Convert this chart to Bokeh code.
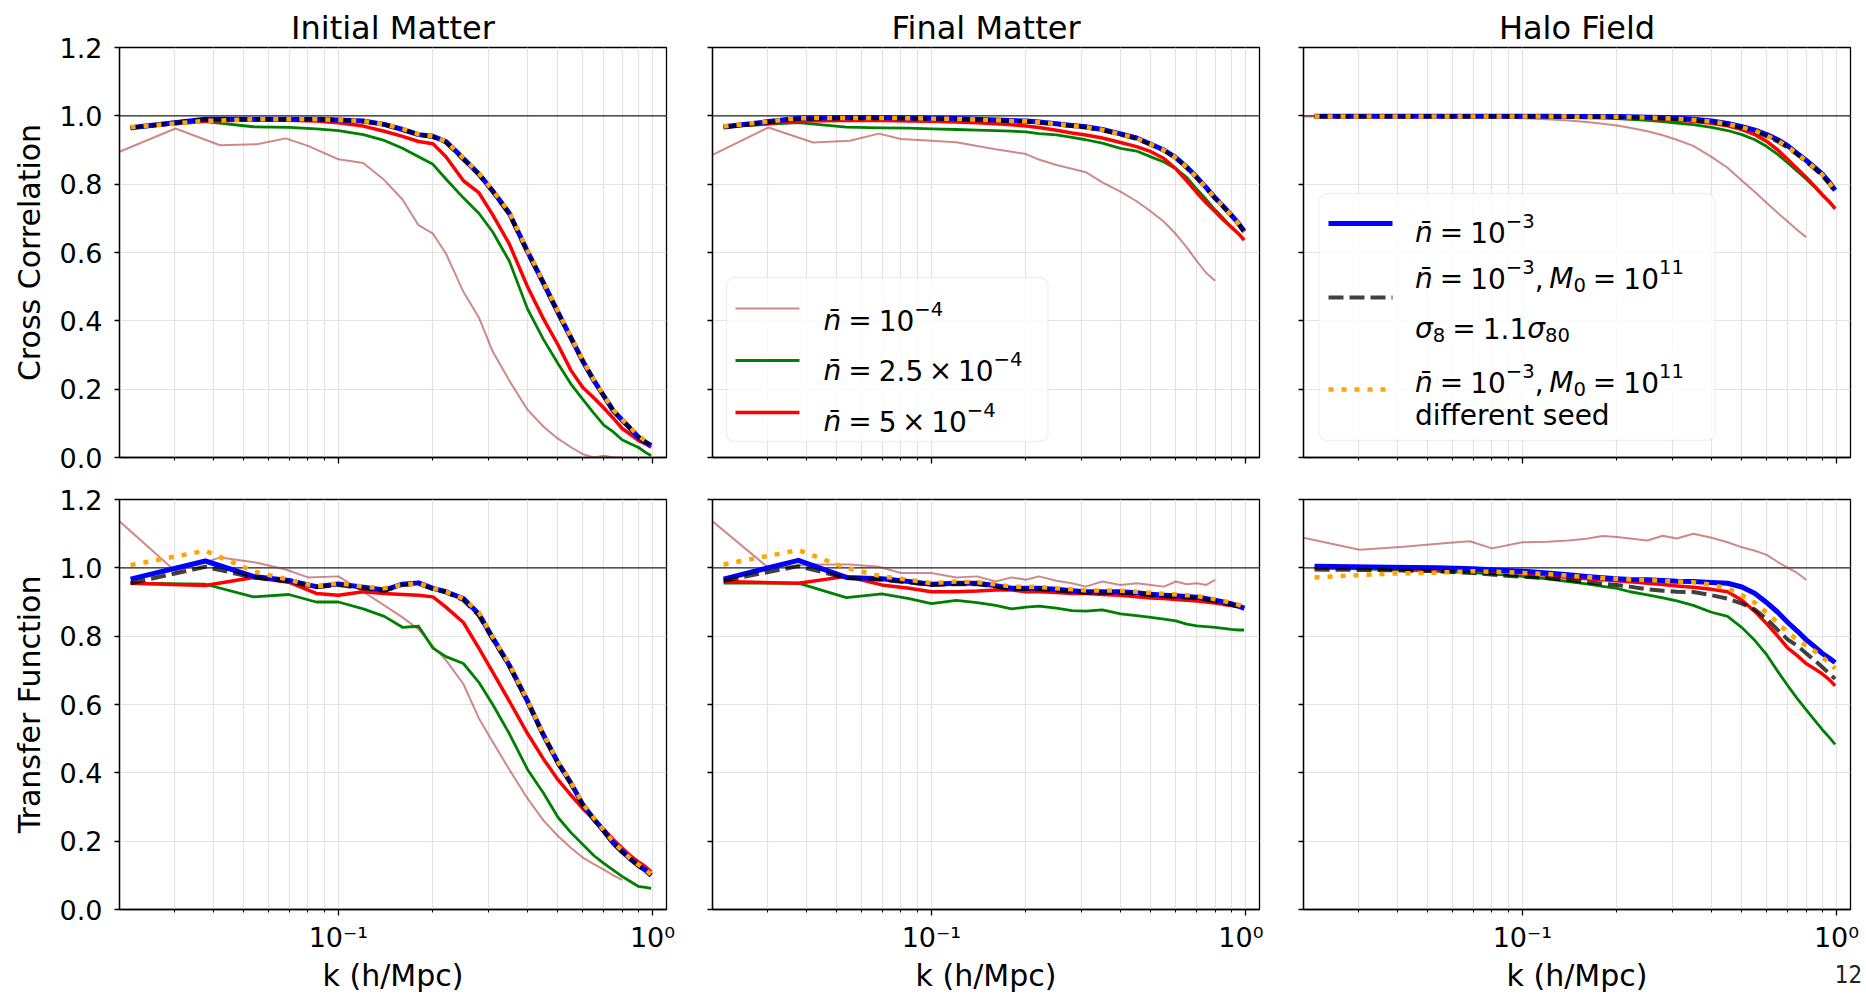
import math
from bokeh.plotting import figure
from bokeh.layouts import column, row
from bokeh.models import (Range1d, FixedTicker, PrintfTickFormatter, Span,
                          BoxAnnotation, Label, ColumnDataSource)
from bokeh.core.properties import value
from bokeh.embed import file_html
from bokeh.resources import INLINE

# ---------------------------------------------------------------- data
k = [0.0218, 0.0377, 0.0536, 0.0695, 0.085, 0.10, 0.12, 0.14, 0.16, 0.18, 0.20,
     0.22, 0.25, 0.28, 0.31, 0.35, 0.40, 0.45, 0.50, 0.55, 0.60, 0.65, 0.70,
     0.75, 0.80, 0.85, 0.90, 0.95, 0.99]
k_low = [0.0201, 0.0303, 0.042, 0.055, 0.068, 0.08, 0.10, 0.12, 0.14, 0.16, 0.18,
         0.20, 0.22, 0.25, 0.28, 0.31, 0.35, 0.40, 0.45, 0.50, 0.55, 0.60, 0.65,
         0.70, 0.75, 0.80]

# Cross correlation, initial matter
cc_init_pink = [0.895, 0.963, 0.914, 0.917, 0.934, 0.912, 0.873, 0.862, 0.812, 0.755, 0.68, 0.655, 0.597,
                0.485, 0.41, 0.31, 0.225, 0.14, 0.09, 0.055, 0.03, 0.01, 0.0, 0.005, 0.0, 0.0]
cc_init_green = [0.965, 0.983, 0.968, 0.966, 0.962, 0.957, 0.945, 0.928, 0.905, 0.88, 0.858, 0.815, 0.76,
                 0.715, 0.66, 0.575, 0.435, 0.345, 0.275, 0.215, 0.17, 0.13, 0.095, 0.075, 0.052, 0.04,
                 0.03, 0.015, 0.005]
cc_init_red = [0.966, 0.985, 0.988, 0.987, 0.985, 0.98, 0.97, 0.955, 0.94, 0.925, 0.918, 0.88, 0.81,
               0.775, 0.71, 0.625, 0.50, 0.405, 0.33, 0.255, 0.205, 0.175, 0.145, 0.115, 0.085, 0.068,
               0.05, 0.04, 0.03]
cc_init_blue = [0.965, 0.99, 0.99, 0.99, 0.99, 0.988, 0.985, 0.975, 0.96, 0.945, 0.94, 0.925, 0.875,
                0.83, 0.78, 0.715, 0.603, 0.51, 0.425, 0.35, 0.282, 0.226, 0.18, 0.137, 0.11, 0.085,
                0.06, 0.045, 0.035]
cc_init_black = [0.965, 0.99, 0.99, 0.99, 0.99, 0.988, 0.984, 0.974, 0.96, 0.945, 0.938, 0.922, 0.872,
                 0.828, 0.778, 0.712, 0.6, 0.508, 0.423, 0.35, 0.282, 0.226, 0.18, 0.137, 0.11, 0.085,
                 0.062, 0.045, 0.035]
cc_init_orange = [0.967, 0.985, 0.99, 0.99, 0.99, 0.988, 0.985, 0.975, 0.962, 0.946, 0.94, 0.925, 0.876,
                  0.832, 0.782, 0.718, 0.606, 0.512, 0.428, 0.352, 0.285, 0.228, 0.182, 0.14, 0.112,
                  0.087, 0.065, 0.048, 0.037]

# Cross correlation, final matter
cc_final_pink = [0.886, 0.966, 0.922, 0.927, 0.948, 0.932, 0.927, 0.923, 0.912, 0.902, 0.895, 0.888,
                 0.872, 0.856, 0.845, 0.835, 0.805, 0.778, 0.75, 0.72, 0.69, 0.654, 0.615, 0.575, 0.54,
                 0.517]
cc_final_green = [0.968, 0.98, 0.967, 0.965, 0.964, 0.962, 0.96, 0.958, 0.957, 0.955, 0.953, 0.948,
                  0.944, 0.937, 0.93, 0.92, 0.905, 0.897, 0.88, 0.865, 0.845, 0.82, 0.785, 0.755, 0.725,
                  0.7, 0.675, 0.655, 0.638]
cc_final_red = [0.968, 0.985, 0.986, 0.986, 0.985, 0.984, 0.982, 0.98, 0.977, 0.974, 0.97, 0.966, 0.958,
                0.95, 0.944, 0.935, 0.922, 0.91, 0.895, 0.875, 0.845, 0.81, 0.775, 0.745, 0.72, 0.695,
                0.675, 0.655, 0.636]
cc_final_blue = [0.968, 0.993, 0.995, 0.995, 0.994, 0.993, 0.992, 0.99, 0.988, 0.986, 0.985, 0.982,
                 0.977, 0.972, 0.968, 0.96, 0.947, 0.935, 0.917, 0.9, 0.878, 0.85, 0.82, 0.79, 0.76,
                 0.735, 0.71, 0.685, 0.662]
cc_final_black = [0.966, 0.991, 0.993, 0.993, 0.992, 0.991, 0.99, 0.988, 0.986, 0.984, 0.983, 0.98,
                  0.975, 0.97, 0.966, 0.958, 0.945, 0.933, 0.915, 0.898, 0.876, 0.848, 0.818, 0.788,
                  0.758, 0.733, 0.708, 0.683, 0.66]
cc_final_orange = [0.969, 0.993, 0.994, 0.994, 0.993, 0.992, 0.991, 0.989, 0.987, 0.985, 0.984, 0.981,
                   0.976, 0.971, 0.967, 0.959, 0.946, 0.934, 0.916, 0.899, 0.877, 0.849, 0.819, 0.789,
                   0.759, 0.734, 0.709, 0.684, 0.661]

# Cross correlation, halo field
cc_halo_pink = [0.998, 0.998, 0.998, 0.997, 0.996, 0.995, 0.993, 0.99, 0.986, 0.982, 0.977, 0.972, 0.965,
                0.955, 0.943, 0.93, 0.912, 0.88, 0.848, 0.81, 0.777, 0.745, 0.716, 0.69, 0.666, 0.645]
cc_halo_green = [0.998, 0.998, 0.998, 0.998, 0.997, 0.997, 0.996, 0.995, 0.994, 0.993, 0.992, 0.99,
                 0.987, 0.983, 0.979, 0.974, 0.966, 0.957, 0.945, 0.93, 0.91, 0.887, 0.862, 0.838, 0.815,
                 0.792, 0.768, 0.748, 0.73]
cc_halo_red = [0.998, 0.998, 0.998, 0.998, 0.998, 0.998, 0.998, 0.997, 0.997, 0.996, 0.996, 0.995, 0.993,
               0.99, 0.988, 0.984, 0.978, 0.971, 0.96, 0.945, 0.925, 0.9, 0.872, 0.845, 0.82, 0.795,
               0.77, 0.748, 0.728]
cc_halo_blue = [0.999, 0.999, 0.999, 0.999, 0.999, 0.999, 0.999, 0.998, 0.998, 0.998, 0.998, 0.997,
                0.996, 0.995, 0.994, 0.99, 0.985, 0.978, 0.968, 0.958, 0.945, 0.93, 0.912, 0.89, 0.87,
                0.85, 0.83, 0.805, 0.782]
cc_halo_black = [0.998, 0.998, 0.998, 0.998, 0.998, 0.998, 0.998, 0.997, 0.997, 0.997, 0.996, 0.995,
                 0.994, 0.992, 0.99, 0.986, 0.981, 0.974, 0.965, 0.954, 0.94, 0.925, 0.907, 0.886, 0.866,
                 0.846, 0.825, 0.8, 0.776]
cc_halo_orange = [0.998, 0.998, 0.998, 0.998, 0.998, 0.998, 0.998, 0.998, 0.997, 0.997, 0.997, 0.996,
                  0.995, 0.993, 0.991, 0.988, 0.983, 0.976, 0.966, 0.956, 0.942, 0.927, 0.909, 0.888,
                  0.868, 0.848, 0.828, 0.803, 0.779]

# Transfer function, initial matter
tf_init_pink = [1.136, 0.99, 1.03, 1.015, 0.995, 0.972, 0.975, 0.93, 0.89, 0.855, 0.82, 0.77, 0.73, 0.66,
                0.56, 0.49, 0.41, 0.325, 0.26, 0.215, 0.18, 0.152, 0.133, 0.117, 0.1, 0.087]
tf_init_green = [0.955, 0.952, 0.915, 0.922, 0.9, 0.9, 0.88, 0.858, 0.826, 0.829, 0.765, 0.74, 0.72,
                 0.665, 0.6, 0.515, 0.41, 0.34, 0.27, 0.225, 0.19, 0.158, 0.135, 0.115, 0.097, 0.082,
                 0.068, 0.065, 0.062]
tf_init_red = [0.955, 0.948, 0.972, 0.958, 0.925, 0.92, 0.93, 0.925, 0.922, 0.92, 0.915, 0.885, 0.84,
               0.765, 0.695, 0.61, 0.515, 0.44, 0.38, 0.335, 0.295, 0.265, 0.235, 0.205, 0.18, 0.158,
               0.14, 0.125, 0.11]
tf_init_blue = [0.967, 1.02, 0.975, 0.963, 0.945, 0.953, 0.943, 0.935, 0.952, 0.956, 0.94, 0.93, 0.91,
                0.865, 0.795, 0.715, 0.61, 0.51, 0.43, 0.37, 0.307, 0.265, 0.23, 0.195, 0.17, 0.148,
                0.13, 0.115, 0.1]
tf_init_black = [0.955, 1.003, 0.972, 0.96, 0.943, 0.95, 0.94, 0.933, 0.95, 0.953, 0.938, 0.928, 0.905,
                 0.86, 0.79, 0.712, 0.607, 0.508, 0.428, 0.368, 0.305, 0.263, 0.228, 0.193, 0.168,
                 0.147, 0.128, 0.113, 0.1]
tf_init_orange = [1.008, 1.05, 0.99, 0.965, 0.945, 0.955, 0.945, 0.94, 0.95, 0.955, 0.94, 0.93, 0.91,
                  0.87, 0.797, 0.718, 0.612, 0.512, 0.432, 0.372, 0.31, 0.268, 0.232, 0.198, 0.172,
                  0.15, 0.132, 0.117, 0.102]

# Transfer function, final matter
tf_final_pink = [1.136, 1.0, 1.01, 1.01, 1.003, 0.985, 0.985, 0.972, 0.975, 0.96, 0.972, 0.965, 0.975,
                 0.962, 0.955, 0.945, 0.96, 0.95, 0.955, 0.95, 0.945, 0.96, 0.952, 0.955, 0.95, 0.965]
tf_final_green = [0.955, 0.955, 0.913, 0.924, 0.91, 0.895, 0.905, 0.898, 0.89, 0.88, 0.885, 0.888,
                  0.882, 0.875, 0.873, 0.877, 0.865, 0.86, 0.855, 0.85, 0.845, 0.835, 0.83, 0.828,
                  0.826, 0.823, 0.82, 0.818, 0.818]
tf_final_red = [0.96, 0.955, 0.975, 0.95, 0.94, 0.93, 0.93, 0.932, 0.935, 0.935, 0.93, 0.93, 0.928,
                0.925, 0.925, 0.922, 0.92, 0.915, 0.912, 0.91, 0.907, 0.905, 0.903, 0.9, 0.897, 0.893,
                0.89, 0.887, 0.884]
tf_final_blue = [0.967, 1.022, 0.972, 0.968, 0.96, 0.952, 0.955, 0.955, 0.948, 0.94, 0.94, 0.94, 0.937,
                 0.933, 0.93, 0.93, 0.93, 0.927, 0.923, 0.92, 0.918, 0.916, 0.914, 0.91, 0.905, 0.9,
                 0.895, 0.888, 0.882]
tf_final_black = [0.962, 1.005, 0.97, 0.965, 0.957, 0.95, 0.952, 0.952, 0.945, 0.937, 0.938, 0.937,
                  0.934, 0.93, 0.927, 0.927, 0.927, 0.924, 0.92, 0.917, 0.915, 0.913, 0.911, 0.907,
                  0.902, 0.897, 0.892, 0.886, 0.88]
tf_final_orange = [1.01, 1.052, 1.0, 0.975, 0.965, 0.955, 0.96, 0.958, 0.952, 0.945, 0.945, 0.944, 0.94,
                   0.937, 0.934, 0.934, 0.933, 0.93, 0.927, 0.924, 0.922, 0.92, 0.917, 0.913, 0.908,
                   0.903, 0.898, 0.892, 0.886]

# Transfer function, halo field
tf_halo_pink = [1.088, 1.053, 1.062, 1.071, 1.078, 1.057, 1.075, 1.076, 1.08, 1.085, 1.093, 1.09, 1.086,
                1.08, 1.094, 1.086, 1.1, 1.088, 1.075, 1.06, 1.05, 1.038, 1.017, 1.0, 0.985, 0.965]
tf_halo_green = [1.0, 0.995, 0.99, 0.986, 0.98, 0.975, 0.968, 0.96, 0.953, 0.946, 0.94, 0.93, 0.921,
                 0.912, 0.903, 0.89, 0.87, 0.858, 0.825, 0.787, 0.745, 0.697, 0.655, 0.617, 0.585,
                 0.555, 0.527, 0.503, 0.483]
tf_halo_red = [1.0, 0.998, 0.995, 0.993, 0.99, 0.985, 0.978, 0.972, 0.968, 0.965, 0.962, 0.959, 0.955,
               0.951, 0.947, 0.943, 0.937, 0.93, 0.905, 0.872, 0.836, 0.8, 0.765, 0.743, 0.72, 0.705,
               0.69, 0.672, 0.655]
tf_halo_blue = [1.005, 1.002, 1.0, 0.997, 0.993, 0.99, 0.985, 0.98, 0.975, 0.971, 0.968, 0.966, 0.965,
                0.963, 0.961, 0.96, 0.957, 0.955, 0.944, 0.925, 0.898, 0.87, 0.84, 0.815, 0.79, 0.77,
                0.75, 0.735, 0.723]
tf_halo_black = [0.995, 0.993, 0.99, 0.985, 0.978, 0.974, 0.97, 0.965, 0.958, 0.953, 0.95, 0.945, 0.937,
                 0.933, 0.93, 0.929, 0.92, 0.91, 0.895, 0.878, 0.85, 0.818, 0.79, 0.772, 0.75, 0.73,
                 0.71, 0.69, 0.675]
tf_halo_orange = [0.972, 0.983, 0.986, 0.99, 0.988, 0.985, 0.982, 0.977, 0.973, 0.97, 0.968, 0.966,
                  0.964, 0.962, 0.96, 0.958, 0.95, 0.94, 0.92, 0.898, 0.868, 0.84, 0.81, 0.79, 0.772,
                  0.757, 0.74, 0.72, 0.705]

titles = ["Initial Matter", "Final Matter", "Halo Field"]
row_labels = ["Cross Correlation", "Transfer Function"]
x_label = "k (h/Mpc)"
x_major_ticks = [0.1, 1.0]
x_tick_labels = {0.1: "10\u207b\u00b9", 1.0: "10\u2070"}
x_minor_ticks = [0.02, 0.03, 0.04, 0.05, 0.06, 0.07, 0.08, 0.09,
                 0.2, 0.3, 0.4, 0.5, 0.6, 0.7, 0.8, 0.9]
y_ticks = [0.0, 0.2, 0.4, 0.6, 0.8, 1.0, 1.2]
page_number = "12"

NBAR = "n\u0304"
legend_low = [
    ("pink", [[(NBAR, "i"), ("=", "rel"), ("10", "r"), ("\u22124", "sup")]]),
    ("green", [[(NBAR, "i"), ("=", "rel"), ("2.5", "r"), ("\u00d7", "bin"), ("10", "r"), ("\u22124", "sup")]]),
    ("red", [[(NBAR, "i"), ("=", "rel"), ("5", "r"), ("\u00d7", "bin"), ("10", "r"), ("\u22124", "sup")]]),
]
_n3M = [(NBAR, "i"), ("=", "rel"), ("10", "r"), ("\u22123", "sup"), (",", "punct"),
        ("M", "i"), ("0", "sub"), ("=", "rel"), ("10", "r"), ("11", "sup")]
legend_high = [
    ("blue", [[(NBAR, "i"), ("=", "rel"), ("10", "r"), ("\u22123", "sup")]]),
    ("black", [_n3M, [("\u03c3", "i"), ("8", "sub"), ("=", "rel"), ("1.1", "r"), ("\u03c3", "i"), ("80", "sub")]]),
    ("orange", [_n3M, [("different seed", "r")]]),
]

panels = [
    [dict(pink=cc_init_pink, green=cc_init_green, red=cc_init_red, blue=cc_init_blue,
          black=cc_init_black, orange=cc_init_orange),
     dict(pink=cc_final_pink, green=cc_final_green, red=cc_final_red, blue=cc_final_blue,
          black=cc_final_black, orange=cc_final_orange),
     dict(pink=cc_halo_pink, green=cc_halo_green, red=cc_halo_red, blue=cc_halo_blue,
          black=cc_halo_black, orange=cc_halo_orange)],
    [dict(pink=tf_init_pink, green=tf_init_green, red=tf_init_red, blue=tf_init_blue,
          black=tf_init_black, orange=tf_init_orange),
     dict(pink=tf_final_pink, green=tf_final_green, red=tf_final_red, blue=tf_final_blue,
          black=tf_final_black, orange=tf_final_orange),
     dict(pink=tf_halo_pink, green=tf_halo_green, red=tf_halo_red, blue=tf_halo_blue,
          black=tf_halo_black, orange=tf_halo_orange)],
]

# ---------------------------------------------------------------- styling
FONT = "DejaVu Sans"
GRID = "#e3e3e3"
STYLE = {
    "pink": dict(line_color="#a52a2a", line_alpha=0.55, line_width=2, line_join="round"),
    "green": dict(line_color="#008000", line_width=2.8, line_join="round"),
    "red": dict(line_color="#ff0000", line_width=3.5, line_join="round"),
    "blue": dict(line_color="#0000ff", line_width=5, line_join="round"),
    "black": dict(line_color="#000000", line_alpha=0.75, line_width=4, line_dash="15 6"),
    "orange": dict(line_color="#ffa500", line_width=4.5, line_dash="5 8"),
}
ORDER = ["pink", "green", "red", "blue", "black", "orange"]

X0, X1 = 0.0201, 1.108
FW, FH = 547, 410
LOGL, LOGR = math.log10(X0), math.log10(X1)
PPD = FW / (LOGR - LOGL)
# borders [row][col]; frames sit at x = 119, 712, 1303 and y = 47, 499
LEFT = [[119, 26, 24], [119, 26, 40]]
RIGHT = [[20, 20, 16], [20, 4, 16]]
TOP = [47, 22]
BOTTOM = [20, 86]


def kx(px):
    return 10 ** (LOGL + px / PPD)


def vy(py):
    return 1.2 - py * 1.2 / FH


W = {c: 0.636 for c in "0123456789"}
W.update({".": 0.318, ",": 0.318, "=": 0.838, "\u00d7": 0.838, "\u2212": 0.838, " ": 0.318,
          "M": 0.863, "n": 0.634, "\u03c3": 0.635, "d": 0.635, "i": 0.278, "f": 0.352,
          "e": 0.615, "r": 0.411, "t": 0.392, "s": 0.521, "\u0304": 0.0})


def layout_runs(runs, x0, base, fs):
    out = []
    x = x0
    for txt, kind in runs:
        pad = {"rel": 0.25, "bin": 0.2}.get(kind, 0.0) * fs
        x += pad
        if kind in ("sup", "sub"):
            size = 0.7 * fs
            dy = -0.42 * fs if kind == "sup" else 0.22 * fs
        else:
            size = fs
            dy = 0.0
        out.append((x, base + dy, txt, "%.1fpx" % size, "italic" if kind == "i" else "normal"))
        x += sum(W.get(c, 0.6) for c in txt) * size + pad
        if kind == "punct":
            x += 0.2 * fs
    return out


def draw_legend(p, box, hx, tx, entries, handle_ys, baselines, fs=28):
    l, r, t, b = box
    p.add_layout(BoxAnnotation(left=kx(l), right=kx(r), top=vy(t), bottom=vy(b),
                               fill_color="white", fill_alpha=0.8, line_color="#cccccc",
                               line_width=1.3, border_radius=8, level="underlay"))
    cols = dict(x=[], y=[], text=[], fs=[], fst=[])
    for (name, lines), hy, bases in zip(entries, handle_ys, baselines):
        p.line([kx(hx[0]), kx(hx[1])], [vy(hy), vy(hy)], **STYLE[name])
        for runs, base in zip(lines, bases):
            for x, y, txt, size, sty in layout_runs(runs, tx, base, fs):
                cols["x"].append(kx(x))
                cols["y"].append(vy(y))
                cols["text"].append(txt)
                cols["fs"].append(size)
                cols["fst"].append(sty)
    p.text(x="x", y="y", text="text", text_font_size="fs", text_font_style="fst",
           text_font=value(FONT), text_color="black", text_baseline="alphabetic",
           text_align="left", source=ColumnDataSource(cols))


def make_panel(ri, ci):
    kw = dict(frame_width=FW, frame_height=FH, x_axis_type="log",
              x_range=Range1d(X0, X1), y_range=Range1d(0, 1.2),
              output_backend="svg", toolbar_location=None,
              min_border_left=LEFT[ri][ci], min_border_right=RIGHT[ri][ci],
              min_border_top=TOP[ri], min_border_bottom=BOTTOM[ri],
              background_fill_color="white", border_fill_color="white")
    kw["title"] = titles[ci] if ri == 0 else None
    p = figure(**kw)
    if ri == 0:
        p.title.text_font = FONT
        p.title.text_font_size = "32px"
        p.title.text_font_style = "normal"
        p.title.align = "center"
        p.title.text_color = "black"
        p.title.standoff = 2
    p.outline_line_color = "black"
    p.outline_line_width = 1.3
    p.outline_line_alpha = 1

    xt = FixedTicker(ticks=x_major_ticks, minor_ticks=x_minor_ticks)
    yt = FixedTicker(ticks=y_ticks, minor_ticks=[])
    xa, ya = p.xaxis[0], p.yaxis[0]
    xa.ticker = xt
    ya.ticker = yt
    p.xgrid.ticker = xt
    p.ygrid.ticker = yt
    p.xgrid.grid_line_color = GRID
    p.xgrid.minor_grid_line_color = GRID
    p.xgrid.grid_line_width = 1.2
    p.xgrid.minor_grid_line_width = 1.2
    p.ygrid.grid_line_color = GRID
    p.ygrid.grid_line_width = 1.2
    for a in (xa, ya):
        a.axis_line_color = "black"
        a.axis_line_width = 1.3
        a.major_tick_line_color = "black"
        a.major_tick_line_width = 1.3
        a.major_tick_in = 0
        a.minor_tick_in = 0
        a.major_label_text_font = FONT
        a.major_label_text_font_size = "27px"
        a.major_label_text_color = "black"
        a.axis_label_text_font = FONT
        a.axis_label_text_font_size = "30px"
        a.axis_label_text_font_style = "normal"
        a.axis_label_text_color = "black"
    xa.major_tick_out = 6
    xa.minor_tick_out = 3
    xa.minor_tick_line_color = "black"
    xa.minor_tick_line_width = 1
    ya.major_tick_out = 5
    ya.minor_tick_line_color = None
    ya.formatter = PrintfTickFormatter(format="%.1f")
    if ri == 0:
        # shared x axis: ticks only, labels shown on the lower row
        xa.major_label_overrides = {t: "" for t in x_major_ticks}
        xa.major_label_text_font_size = "1px"
        xa.major_label_standoff = 0
    else:
        xa.major_label_overrides = x_tick_labels
        xa.axis_label = x_label
        xa.major_label_standoff = 6
        xa.axis_label_standoff = 2
    if ci == 0:
        ya.axis_label = row_labels[ri]
        ya.major_label_standoff = 12
        ya.axis_label_standoff = 10
    else:
        # shared y axis: ticks only
        ya.major_label_overrides = {t: "" for t in y_ticks}
        ya.major_label_text_font_size = "1px"
        ya.major_label_standoff = 0

    p.add_layout(Span(location=1.0, dimension="width", line_color="#222222",
                      line_width=1.2, level="underlay"))

    data = panels[ri][ci]
    for name in ORDER:
        xs = k_low if name == "pink" else k
        p.line(xs, data[name], **STYLE[name])
    return p


figs = [[make_panel(ri, ci) for ci in range(3)] for ri in range(2)]

# legends
draw_legend(figs[0][1], (14, 335.5, 230, 394), (23, 87), 111, legend_low,
            [261, 313, 365], [[273], [323], [374]])
draw_legend(figs[0][2], (15.5, 411.6, 146, 393), (25, 89), 111.5, legend_high,
            [176, 250, 342], [[185], [231, 281], [335, 368]])

# page number: lives in a side panel (not clipped to the frame), drawn at the corner
figs[1][2].add_layout(Label(x=kx(545), y=vy(474), text=page_number,
                            text_align="center", text_baseline="middle",
                            text_font="DejaVu Sans Condensed, DejaVu Sans", text_font_size="24px",
                            text_color="#222222"), "left")

layout = column(row(*figs[0]), row(*figs[1]))
open("out.html", "w").write(file_html(layout, INLINE))
